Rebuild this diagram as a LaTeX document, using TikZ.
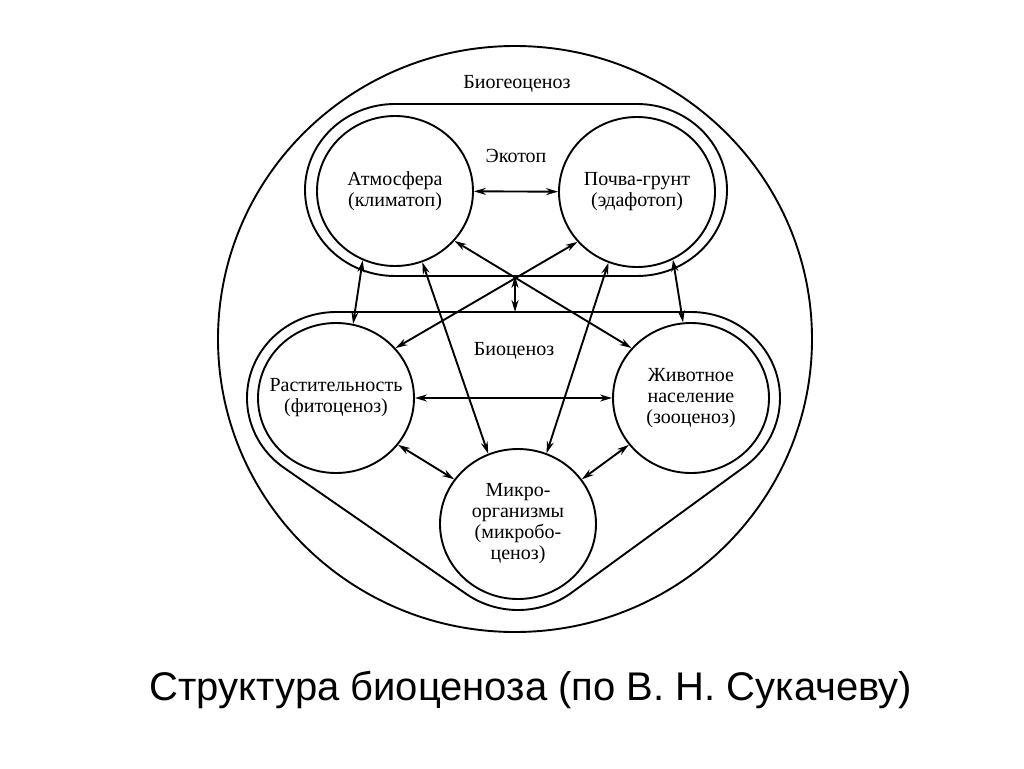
\documentclass[tikz,border=0pt]{standalone}
\usepackage{fontspec}
\setmainfont{Liberation Serif}
\newfontfamily\captionfont{Liberation Sans}
\usetikzlibrary{arrows.meta,shapes.geometric,calc}

\begin{document}
\begin{tikzpicture}[x=1pt,y=-1pt,>={Stealth[length=12pt,width=7pt]},line width=1.9pt,font=\fontsize{20}{21}\selectfont]
  \tikzset{part/.style={draw, ellipse, minimum width=156pt, minimum height=150pt, inner sep=0pt,
      label={[align=center]center:#1}}}
  \useasboundingbox[fill=white] (0,0) rectangle (1024,768);
  % biogeocenosis
  \draw (515,339) ellipse [x radius=297pt, y radius=293pt];
  \node (biogeo) at (517,84) {Биогеоценоз};
  % the five parts
  \node[part={Атмосфера\\(климатоп)}] (A) at (395,191) {};
  \node[part={Почва-грунт\\(эдафотоп)}] (P) at (637,192) {};
  \node[part={Растительность\\(фитоценоз)}] (R) at (336,398) {};
  \node[part={Животное\\население\\(зооценоз)}] (Z) at (691,398) {};
  \node[part={Микро-\\организмы\\(микробо-\\ценоз)}] (M) at (518,524) {};
  % ecotope outline
  \draw (395,104) -- (637,104) arc[start angle=90, end angle=-90, x radius=90pt, y radius=86pt]
    -- (395,276) arc[start angle=270, end angle=90, x radius=90pt, y radius=86pt] -- cycle;
  \node (ecotop) at (516,156) {Экотоп};
  % biocenosis outline
  \draw (336,312) -- (691,312) arc[start angle=90, end angle=-54, x radius=89pt, y radius=86pt]
    -- ($(M)+(-54:89pt and 86pt)$) arc[start angle=-54, end angle=-125, x radius=89pt, y radius=86pt]
    -- ($(R)+(-125:89pt and 86pt)$) arc[start angle=-125, end angle=-270, x radius=89pt, y radius=86pt] -- cycle;
  \node (biocen) at (514,351) {Биоценоз};
  \coordinate (ecobot) at (515,276);
  \coordinate (biotop) at (515,312);
  % links
  \draw[<->] (A) -- (P);
  \draw[<->] (A.-40) -- (Z.140);
  \draw[<->] (P.-140) -- (R.40);
  \draw[<->] (A.-115) -- (R.77);
  \draw[<->] (P.-62) -- (Z.96);
  \draw[<->] (A.-69) -- (M.113);
  \draw[<->] (P.-112) -- (M.68);
  \draw[<->] (R) -- (Z);
  \draw[<->] (R.-37) -- (M.145);
  \draw[<->] (Z.-143) -- (M.35);
  \draw[<->] (ecobot) -- (biotop);
  \node[font=\captionfont\fontsize{40}{42}\selectfont, anchor=base] (title) at (531,700) {Структура биоценоза (по В. Н. Сукачеву)};
\end{tikzpicture}
\end{document}
